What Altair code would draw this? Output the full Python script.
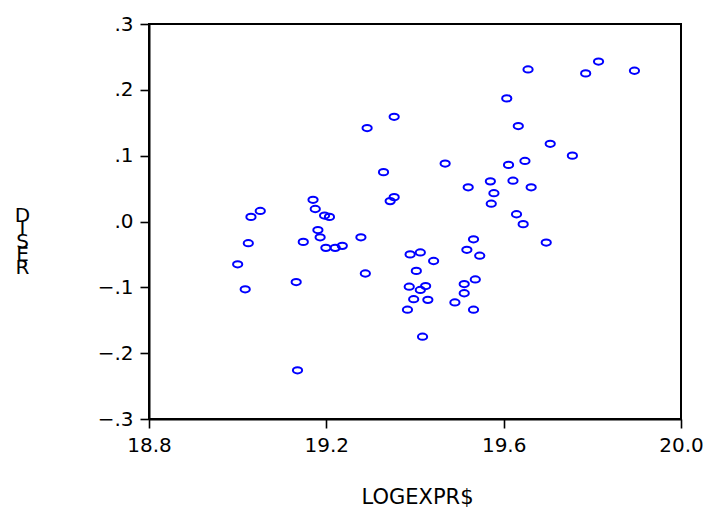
import altair as alt
import pandas as pd

# LOGEXPR$ (x) and RESID (y)
logexpr = [19.000, 19.017, 19.024, 19.030, 19.051, 19.132, 19.135, 19.148, 19.170, 19.175,
           19.181, 19.186, 19.196, 19.199, 19.207, 19.220, 19.236, 19.278, 19.288, 19.292,
           19.329, 19.344, 19.353, 19.353, 19.383, 19.389, 19.387, 19.397, 19.403, 19.412,
           19.412, 19.417, 19.424, 19.429, 19.442, 19.468, 19.490, 19.511, 19.511, 19.517,
           19.520, 19.532, 19.532, 19.536, 19.546, 19.570, 19.572, 19.578, 19.607, 19.611,
           19.621, 19.629, 19.633, 19.644, 19.648, 19.655, 19.662, 19.696, 19.705, 19.755,
           19.785, 19.814, 19.895]
resid = [-0.065, -0.103, -0.033, 0.007, 0.016, -0.092, -0.226, -0.031, 0.033, 0.019,
         -0.013, -0.024, 0.009, -0.040, 0.007, -0.040, -0.037, -0.024, -0.079, 0.142,
         0.075, 0.031, 0.037, 0.159, -0.134, -0.050, -0.099, -0.118, -0.075, -0.047,
         -0.104, -0.175, -0.098, -0.119, -0.060, 0.088, -0.123, -0.095, -0.109, -0.043,
         0.052, -0.027, -0.134, -0.088, -0.052, 0.061, 0.027, 0.043, 0.187, 0.086,
         0.062, 0.011, 0.145, -0.004, 0.092, 0.231, 0.052, -0.032, 0.118, 0.100,
         0.225, 0.243, 0.229]

x_ticks = [18.8, 19.2, 19.6, 20.0]
y_ticks = [-0.3, -0.2, -0.1, 0.0, 0.1, 0.2, 0.3]
y_title = ["D", "I", "S", "E", "R"]

df = pd.DataFrame({"LOGEXPR$": logexpr, "RESID": resid})

ellipse = "M -1 0 A 1 0.68 0 1 0 1 0 A 1 0.68 0 1 0 -1 0 Z"
FONT = "DejaVu Sans"

chart = alt.Chart(df).mark_point(
    shape=ellipse, filled=False, color="#0000FF", size=85, strokeWidth=2, opacity=1
).encode(
    x=alt.X("LOGEXPR$:Q",
            scale=alt.Scale(domain=[18.8, 20.0], nice=False, zero=False),
            axis=alt.Axis(values=x_ticks, format=".1f", title="LOGEXPR$",
                          titleX=268, titleY=84, titleBaseline="alphabetic",
                          titleAngle=0, titleFontSize=21)),
    y=alt.Y("RESID:Q",
            scale=alt.Scale(domain=[-0.3, 0.3], nice=False, zero=False),
            axis=alt.Axis(values=y_ticks,
                          labelExpr="replace(format(datum.value, '.1f'), '0.', '.')",
                          title=y_title, titleAngle=0, titleAlign="center",
                          titleBaseline="top", titleX=-127, titleY=181,
                          titleLineHeight=13, titleFontSize=20)),
).properties(
    width=532, height=395,
    autosize=alt.AutoSizeParams(type="none"),
    padding={"left": 141, "top": 16, "right": 22, "bottom": 90},
).configure_view(
    stroke="black", strokeWidth=2
).configure_axis(
    grid=False, domainColor="black", domainWidth=2, tickColor="black",
    tickWidth=1.6, tickSize=9, labelColor="black", labelFont=FONT,
    labelFontSize=20, labelPadding=7, titleFont=FONT, titleFontSize=20,
    titleFontWeight="normal", titleColor="black", labelFlush=False,
    labelOverlap=False
)

chart.save("out.html", embed_options={"renderer": "svg", "actions": False})
